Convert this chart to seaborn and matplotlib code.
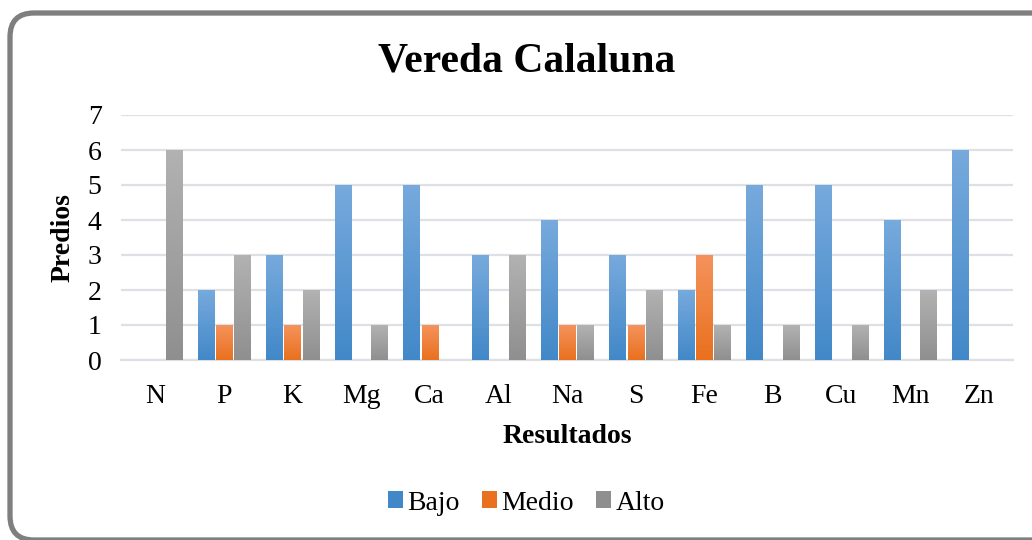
import numpy as np
import pandas as pd
import matplotlib
matplotlib.use("Agg")
import matplotlib.pyplot as plt
import seaborn as sns
from matplotlib.patches import FancyBboxPatch, Patch
from matplotlib.transforms import IdentityTransform
from matplotlib.colors import to_rgb

# Data
elementos = ["N", "P", "K", "Mg", "Ca", "Al", "Na", "S", "Fe", "B", "Cu", "Mn", "Zn"]
bajo = [0, 2, 3, 5, 5, 3, 4, 3, 2, 5, 5, 4, 6]
medio = [0, 1, 1, 0, 1, 0, 1, 1, 3, 0, 0, 0, 0]
alto = [6, 3, 2, 1, 0, 3, 1, 2, 1, 1, 1, 2, 0]
niveles = ["Bajo", "Medio", "Alto"]

# Gradient colours (top, bottom) for each level
gradientes = {
    "Bajo": ("#77AADD", "#4288C8"),
    "Medio": ("#F5935C", "#E9701E"),
    "Alto": ("#B2B2B2", "#8F8F8F"),
}
paleta = {k: v[1] for k, v in gradientes.items()}

df = pd.DataFrame({
    "Elemento": elementos * 3,
    "Nivel": ["Bajo"] * len(elementos) + ["Medio"] * len(elementos) + ["Alto"] * len(elementos),
    "Predios": bajo + medio + alto,
})

sns.set_theme(style="white")
plt.rcParams["font.family"] = ["Liberation Serif", "DejaVu Serif"]
plt.rcParams["text.color"] = "black"
plt.rcParams["axes.labelcolor"] = "black"

fig = plt.figure(figsize=(10.32, 5.4), dpi=100)
ax = fig.add_axes([121 / 1032, 1 - 360 / 540, (1013 - 121) / 1032, (360 - 115) / 540])

sns.barplot(data=df, x="Elemento", y="Predios", hue="Nivel", hue_order=niveles,
            order=elementos, palette=paleta, width=0.8, gap=0.12, legend=False,
            errorbar=None, ax=ax, saturation=1)

ax.set_ylim(0, 7)
xlim = ax.get_xlim()

# Replace flat fills with vertical gradients
for cont, nivel in zip(ax.containers, niveles):
    top, bot = (np.array(to_rgb(c)) for c in gradientes[nivel])
    grad = np.linspace(0, 1, 256)[:, None, None]
    img = top * (1 - grad) + bot * grad  # row 0 = top
    for bar in cont:
        h = bar.get_height()
        bar.set_visible(False)
        if h <= 0:
            continue
        x0 = bar.get_x()
        w = bar.get_width()
        ax.imshow(img, extent=[x0, x0 + w, 0, h], aspect="auto", zorder=3,
                  interpolation="bilinear")

ax.set_xlim(xlim)
ax.set_ylim(0, 7)

ax.set_yticks(range(0, 8))
ax.yaxis.grid(True, color="#DDE1E6", linewidth=1.6, zorder=0)
ax.set_axisbelow(True)
for side in ["top", "right", "left"]:
    ax.spines[side].set_visible(False)
ax.spines["bottom"].set_color("#DDE1E6")
ax.spines["bottom"].set_linewidth(1.6)
ax.tick_params(axis="both", length=0, labelsize=20, colors="black")
ax.tick_params(axis="x", pad=17)
ax.tick_params(axis="y", pad=14)

ax.set_xlabel("Resultados", fontsize=20, fontweight="bold", labelpad=11, color="black")
ax.set_ylabel("Predios", fontsize=20, fontweight="bold", labelpad=9, color="black")

fig.text(0.51, 1 - 62 / 540, "Vereda Calaluna", ha="center", va="center",
         fontsize=30, fontweight="bold", color="black")

handles = [Patch(facecolor=gradientes[n][1], edgecolor="none") for n in niveles]
fig.legend(handles, niveles, loc="center", bbox_to_anchor=(0.51, 1 - 503 / 540),
           ncol=3, frameon=False, fontsize=20, handlelength=0.55, handleheight=0.55,
           handletextpad=0.15, columnspacing=0.8, labelcolor="black")

# Rounded chart border
border = FancyBboxPatch((10, 0), 1060, 527,
                        boxstyle="round,pad=0,rounding_size=24",
                        transform=IdentityTransform(), facecolor="none",
                        edgecolor="#7F7F7F", linewidth=3.8, zorder=10)
fig.add_artist(border)

fig.savefig("out.png", dpi=100)
